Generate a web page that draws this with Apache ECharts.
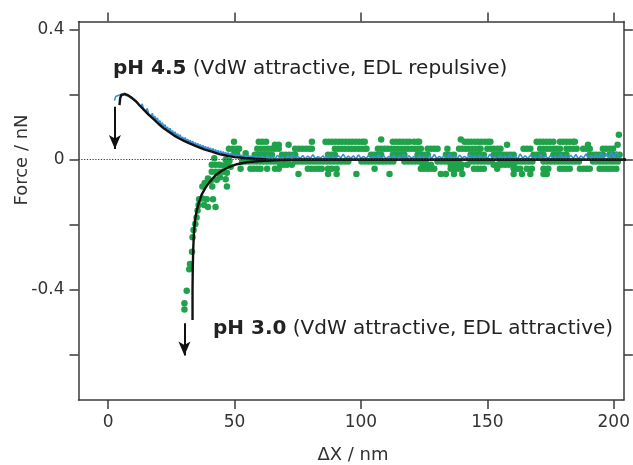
<!DOCTYPE html>
<html>
<head>
<meta charset="utf-8">
<script src="https://cdn.jsdelivr.net/npm/echarts@6/dist/echarts.min.js"></script>
<style>
html,body{margin:0;padding:0;background:#fff;}
#chart{width:633px;height:465px;}
</style>
</head>
<body>
<div id="chart"></div>
<script>
// ---- tick labels ----
const xTickValues = [0, 50, 100, 150, 200];
const yLabelValues = [-0.4, 0, 0.4];
const yTickValues = [-0.6, -0.4, -0.2, 0, 0.2, 0.4];

// ---- pH 4.5 measured (blue line) [ΔX nm, Force nN] ----
const ph45Data = [
[2.5,0.182],[3,0.195],[3.5,0.19],[4,0.198],[4.5,0.192],[5,0.201],[5.5,0.205],[6,0.199],[6.5,0.206],[7,0.198],[7.5,0.203],[8,0.196],[8.5,0.2],[9,0.191],[9.5,0.196],[10,0.186],[10.5,0.19],[11,0.18],[11.5,0.186],[12,0.172],[12.5,0.176],[13,0.164],[13.5,0.172],[14,0.157],[14.5,0.163],[15,0.149],[15.5,0.158],[16,0.142],[16.5,0.147],[17,0.134],[17.5,0.143],[18,0.127],[18.5,0.134],[19,0.12],[19.5,0.129],[20,0.113],[20.5,0.12],[21,0.106],[21.5,0.114],[22,0.1],[22.5,0.108],[23,0.093],[23.5,0.101],[24,0.088],[24.5,0.097],[25,0.082],[25.5,0.09],[26,0.077],[26.5,0.086],[27,0.072],[27.5,0.08],[28,0.068],[28.5,0.077],[29,0.063],[29.5,0.07],[30,0.06],[30.5,0.068],[31,0.056],[31.5,0.063],[32,0.053],[32.5,0.06],[33,0.049],[33.5,0.057],[34,0.045],[34.5,0.053],[35,0.043],[35.5,0.05],[36,0.04],[36.5,0.047],[37,0.036],[37.5,0.044],[38,0.034],[38.5,0.041],[39,0.031],[39.5,0.039],[40,0.029],[40.5,0.036],[41,0.027],[41.5,0.034],[42,0.024],[42.5,0.031],[43,0.021],[43.5,0.029],[44,0.019],[44.5,0.027],[45,0.017],[45.5,0.025],[46,0.015],[46.5,0.023],[47,0.013],[47.5,0.022],[48,0.012],[48.5,0.02],[49,0.011],[49.5,0.018],[50,0.009],[50.5,0.017],[51,0.008],[51.5,0.016],[52,0.007],[52.5,0.015],[53,0.006],[53.5,0.014],[54,0.006],[54.5,0.013],[55,0.005],[55.5,0.014],[56,0.004],[56.5,0.012],[57,0.004],[57.5,0.013],[58,0.003],[58.5,0.012],[59,0.003],[59.5,0.011],[60,0.002],
[61,0.011],[62,0.003],[63,0.013],[64,0.004],[65,0.01],[66,0.002],[67,0.014],[68,0.004],[69,0.009],[70,0.003],[71,0.012],[72,0.005],[73,0.016],[74,0.003],[75,0.01],[76,0.004],[77,0.013],[78,0.002],[79,0.011],[80,0.004],[81,0.015],[82,0.003],[83,0.009],[84,0.005],[85,0.012],[86,0.002],[87,0.014],[88,0.004],[89,0.01],[90,0.003],[91,0.013],[92,0.005],[93,0.017],[94,0.003],[95,0.011],[96,0.004],[97,0.012],[98,0.002],[99,0.015],[100,0.004],[101,0.01],[102,0.003],[103,0.013],[104,0.005],[105,0.011],[106,0.002],[107,0.016],[108,0.004],[109,0.012],[110,0.003],[111,0.01],[112,0.005],[113,0.014],[114,0.003],[115,0.011],[116,0.004],[117,0.017],[118,0.002],[119,0.012],[120,0.004],[121,0.01],[122,0.003],[123,0.014],[124,0.005],[125,0.011],[126,0.002],[127,0.013],[128,0.004],[129,0.016],[130,0.003],[131,0.01],[132,0.005],[133,0.013],[134,0.003],[135,0.018],[136,0.004],[137,0.011],[138,0.002],[139,0.014],[140,0.005],[141,0.01],[142,0.003],[143,0.016],[144,0.004],[145,0.012],[146,0.002],[147,0.013],[148,0.005],[149,0.011],[150,0.003],[151,0.017],[152,0.004],[153,0.01],[154,0.002],[155,0.014],[156,0.005],[157,0.012],[158,0.003],[159,0.015],[160,0.004],[161,0.011],[162,0.002],[163,0.018],[164,0.005],[165,0.012],[166,0.003],[167,0.014],[168,0.004],[169,0.01],[170,0.002],[171,0.016],[172,0.005],[173,0.012],[174,0.003],[175,0.013],[176,0.004],[177,0.011],[178,0.002],[179,0.017],[180,0.005],[181,0.012],[182,0.003],[183,0.014],[184,0.004],[185,0.016],[186,0.002],[187,0.012],[188,0.005],[189,0.018],[190,0.003],[191,0.013],[192,0.004],[193,0.015],[194,0.006],[195,0.02],[196,0.005],[197,0.017],[198,0.007],[199,0.022],[200,0.006],[201,0.024],[202,0.01]
];

// ---- pH 3.0 measured (green dots): jump-in region [ΔX nm, Force nN] ----
const ph30Jump = [
[30.2,-0.462],[30.2,-0.443],[31.1,-0.404],[32.1,-0.338],[32.4,-0.322],[33.2,-0.284],[33.4,-0.239],[33.8,-0.217],[34.5,-0.198],[35,-0.178],[35.4,-0.157],[35.8,-0.14],[36,-0.122],
[37.3,-0.12],[38,-0.14],[39,-0.122],[39.5,-0.146],[41.5,-0.122],[42.5,-0.146],[37.3,-0.083],[38.2,-0.072],[39.5,-0.058],[40.6,-0.065],[41.2,-0.083],[43,-0.062],[44.2,-0.054],[46.5,-0.06],[47,-0.083],
[42,0.004],[41,-0.016],[42.5,-0.016],[44,-0.016],[45.5,-0.018],[47,-0.016],[41,-0.037],[42.5,-0.037],[44,-0.037],[45.5,-0.037],[47,-0.04],[48.5,-0.022],[46.5,0],[48,-0.003],[50,0.022],[51,0.02],[54.4,0.02]
];
// ---- pH 3.0 measured (green dots): plateau, ΔX values at each force level ----
const ph30Levels = [0.062, 0.055, 0.046, 0.034, 0.015, -0.006, -0.016, -0.028, -0.044, 0.077];
const ph30AtLevel = [
[108, 139.5],
[49.8,59.6,61,62.5,80.6,86,87.3,88.6,90,91.3,92.6,94,95.3,96.6,98,99.3,100.6,101.5,112.6,114,115.3,116.6,118,119.2,121,122.3,123,141,142.3,143.6,145,146.3,147.6,149,150.3,151.2,169.5,170.8,172.1,173.4,174.7,176.1,178.7,180,181.3,182.6,184,184.6],
[66,67.5,71.4,157.8,189.8,201.5],
[47.8,49.2,50.5,51.8,59,60.4,61.8,63.2,64.6,66,67.5,74,75.4,76.8,78.2,79.6,80.6,89.7,91,92.3,93.6,95,96.3,97.6,99,100.3,101.6,102.2,106.7,108,109.3,110.6,112,113.3,114.6,116,117.3,118.6,120,121.3,122.6,123.7,126.4,127.7,129,130.3,134.2,138.8,140.1,141.4,142.7,144,145.3,146.6,147.3,150,151.3,152.6,154,155.2,164.3,165.6,167,170.9,172.2,173.5,174.8,176.1,177.4,178.7,181.3,182.6,184,185.3,187.9,189.2,190.5,195.7,197,198.4,199.7],
[58,59.4,60.8,62.2,63.6,64.8,68.8,70.2,71.6,73,74,87,88.4,89.7,104,105.3,106.6,108,112.6,114,115.3,116.6,117.2,122.4,123.7,125,126.4,133.6,135,136.8,143.4,144.7,146,147.3,148.6,152.5,153.8,155.1,156.4,157.7,159,160.4,168.3,169.6,170.9,172.2,176.1,177.4,178.7,180,181.3,190.5,191.8,193.1,194.4,195.7,198.3,199.6,201,202.3],
[53,54.4,55.8,57.2,58.6,60,61.4,62.8,64.2,65.6,67,69.8,71.2,74,75.4,76.8,78.2,79.6,81,82.4,83.8,85.2,86.6,88,89.4,90.8,92.2,93.6,95,100.2,101.6,103,104.4,105.8,107.2,108.6,110,111.4,112.8,117.2,118.6,120,121.4,122.8,124.2,125.6,130.3,131.7,133.1,134.5,135.9,137.3,138.7,143.4,144.8,146.2,147.6,149,150.4,151.8,155.2,156.6,158,159.4,160.8,162.2,163.6,165,166.4,167.8,172.2,173.6,175,176.4,177.8,179.2,180.6,182,183.4,184.8,186.2,191.8,193.2,194.6,196,197.4,198.8,200.2,201.6],
[68,69.4,70.8,72.7,124.4,125.7,127.7,135.5,137,138.5,140,142.1,152.5,154,155.5,157,158.5,160.4],
[52.4,56.3,57.6,59,60.3,62.9,66,67.5,79,80.4,81.8,83.2,84.5,87,88.4,90.4,105.4,123.7,125,126.4,127.7,129,135.5,136.8,138.1,139.5,144.7,146,147.3,148.6,153.9,160.4,161.7,163,165.6,167.6,172.2,174.1,178.7,180,181.3,182.6,186.6,188,189.3,190.5,194.4,195.7,197,198.3,199.6,201],
[75.3,87,90.4,98.2,111.3,131.6,133.6,136.8,140.1,160.4,163.7,167,172.2,173.5],
[202]
];

// ---- fitted curves (black) ----
const fit45 = [[4.5,0.168],[4.8,0.19],[5.3,0.2],[5.9,0.203],[6.8,0.202],[8,0.198],[9.5,0.19],[11,0.18],[12.5,0.167],[14,0.155],[16,0.139],[18,0.125],[20,0.11],[22,0.097],[24,0.086],[26,0.075],[28,0.066],[30,0.058],[32,0.051],[35,0.041],[38,0.032],[41,0.025],[44,0.017],[47,0.012],[50,0.008],[54,0.005],[58,0.003],[63,0.001],[70,0],[205,0]];
const fit30 = [[33.4,-0.494],[33.4,-0.40],[33.5,-0.33],[33.7,-0.27],[34,-0.22],[34.4,-0.185],[35,-0.16],[35.8,-0.135],[37,-0.108],[38.5,-0.087],[40,-0.07],[42.5,-0.048],[45,-0.034],[48,-0.022],[51,-0.014],[55,-0.008],[60,-0.004],[66,-0.002],[75,0],[205,0]];

// ---- annotation arrows [from, to] in data units ----
const arrow45 = [[2.7,0.163],[2.7,0.033]];
const arrow30 = [[30.2,-0.504],[30.2,-0.604]];

const X_MIN = -11.7, X_MAX = 204;
const Y_MIN = -0.741, Y_MAX = 0.426;

const green = '#1fa24a';
const blue = '#3a8fd8';
const axisColor = '#3a3a3a';
const font = 'DejaVu Sans';

const greenPoints = ph30Jump.slice();
ph30AtLevel.forEach((xs, i) => xs.forEach(x => greenPoints.push([x, ph30Levels[i]])));

const chart = echarts.init(document.getElementById('chart'), null, {renderer: 'canvas'});

const axisCommon = {
  axisLine: {show: true, onZero: false, lineStyle: {color: axisColor, width: 1.5}},
  splitLine: {show: false},
};

chart.setOption({
  animation: false,
  backgroundColor: '#fff',
  grid: {left: 78.5, right: 5.3, top: 21.5, bottom: 65},
  xAxis: [
    Object.assign({
      type: 'value', min: X_MIN, max: X_MAX, position: 'bottom',
      axisTick: {show: true, inside: false, length: 9, lineStyle: {color: axisColor, width: 1.5}, customValues: xTickValues},
      axisLabel: {show: true, margin: 14, fontSize: 17, fontFamily: font, color: '#333', customValues: xTickValues},
    }, axisCommon),
    Object.assign({
      type: 'value', min: X_MIN, max: X_MAX, position: 'top',
      axisTick: {show: true, inside: false, length: 9, lineStyle: {color: axisColor, width: 1.5}, customValues: xTickValues},
      axisLabel: {show: false},
    }, axisCommon)
  ],
  yAxis: [
    Object.assign({
      type: 'value', min: Y_MIN, max: Y_MAX, position: 'left',
      axisTick: {show: true, inside: false, length: 9, lineStyle: {color: axisColor, width: 1.5}, customValues: yTickValues},
      axisLabel: {show: true, margin: 14, fontSize: 17, fontFamily: font, color: '#333', customValues: yLabelValues,
        formatter: v => (Math.abs(v) < 1e-9 ? '0' : String(v))},
    }, axisCommon),
    Object.assign({
      type: 'value', min: Y_MIN, max: Y_MAX, position: 'right',
      axisTick: {show: true, inside: false, length: 9, lineStyle: {color: axisColor, width: 1.5}, customValues: yTickValues},
      axisLabel: {show: false},
    }, axisCommon)
  ],
  series: [
    {
      name: 'pH 3.0', type: 'scatter', xAxisIndex: 0, yAxisIndex: 0,
      data: greenPoints, symbol: 'circle', symbolSize: 6.5,
      itemStyle: {color: green, opacity: 1},
      z: 2,
      markLine: {
        silent: true, symbol: ['none', 'none'], animation: false,
        label: {show: false},
        lineStyle: {type: [1.2, 1.6], color: '#333', width: 1.2},
        data: [{yAxis: 0}]
      }
    },
    {
      name: 'pH 4.5', type: 'line', xAxisIndex: 0, yAxisIndex: 0,
      data: ph45Data, showSymbol: false, symbol: 'none',
      lineStyle: {color: blue, width: 1.6},
      z: 3
    },
    {
      name: 'fit pH 4.5', type: 'line', data: fit45, showSymbol: false, symbol: 'none',
      lineStyle: {color: '#111', width: 2.4}, z: 4
    },
    {
      name: 'fit pH 3.0', type: 'line', data: fit30, showSymbol: false, symbol: 'none',
      lineStyle: {color: '#111', width: 2.4}, z: 4,
      markLine: {
        silent: true, symbol: ['none', 'arrow'], symbolSize: [9, 14], animation: false,
        label: {show: false},
        lineStyle: {type: 'solid', color: '#111', width: 2},
        data: [
          [{coord: arrow45[0]}, {coord: arrow45[1]}],
          [{coord: arrow30[0]}, {coord: arrow30[1]}]
        ]
      }
    }
  ],
  graphic: [
    {type: 'text', left: 113, top: 59, z: 10,
     style: {text: '{b|pH 4.5} (VdW attractive, EDL repulsive)', fontSize: 20, fontFamily: font, fill: '#222',
       rich: {b: {fontWeight: 'bold', fontSize: 20, fontFamily: font, fill: '#222'}}}},
    {type: 'text', left: 213, top: 319, z: 10,
     style: {text: '{b|pH 3.0} (VdW attractive, EDL attractive)', fontSize: 20, fontFamily: font, fill: '#222',
       rich: {b: {fontWeight: 'bold', fontSize: 20, fontFamily: font, fill: '#222'}}}},
    {type: 'text', x: 22, y: 160, rotation: Math.PI / 2, z: 10,
     style: {text: 'Force / nN', fontSize: 18, fontFamily: font, fill: '#333', align: 'center', verticalAlign: 'middle'}},
    {type: 'text', x: 353, y: 455, z: 10,
     style: {text: 'ΔX / nm', fontSize: 18, fontFamily: font, fill: '#333', align: 'center', verticalAlign: 'middle'}}
  ]
});
</script>
</body>
</html>
